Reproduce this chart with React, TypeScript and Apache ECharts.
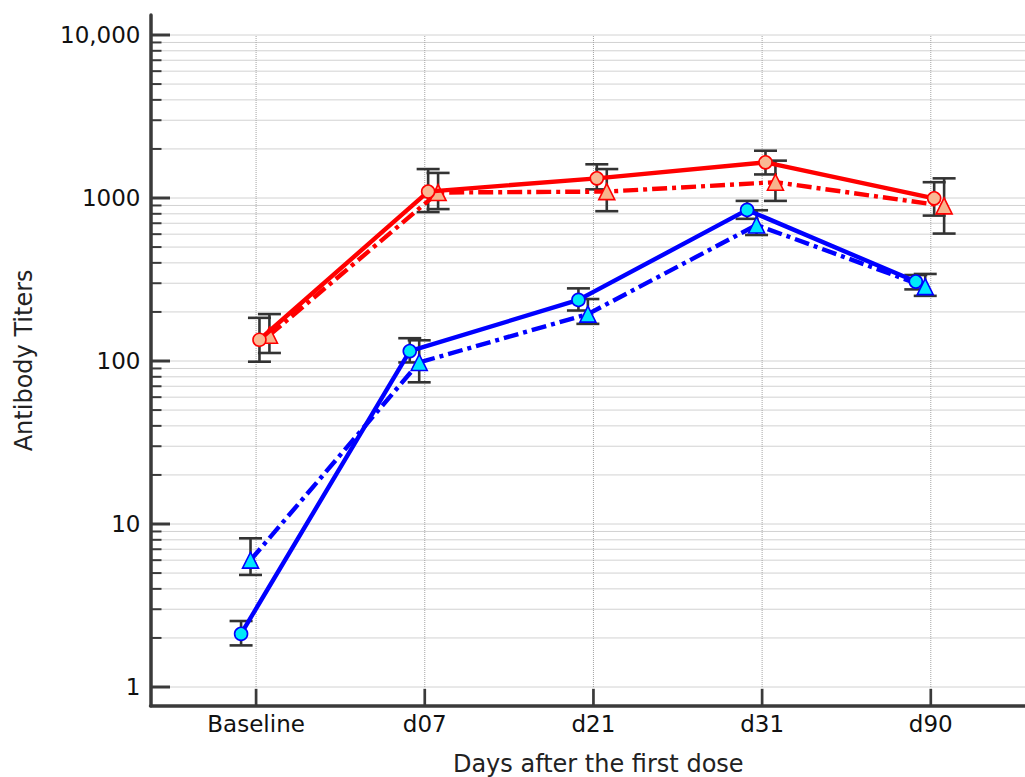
import React, { useEffect, useRef } from 'react';
import * as echarts from 'echarts';

const categories = ['Baseline', 'd07', 'd21', 'd31', 'd90'];
const yTickLabels = ['1', '10', '100', '1000', '10,000'];
const xTitle = 'Days after the first dose';
const yTitle = 'Antibody Titers';

// Red group, solid line, circles
const redCircleMean = [135, 1095, 1320, 1655, 995];
const redCircleLow = [99, 820, 1130, 1395, 780];
const redCircleHigh = [184, 1505, 1610, 1950, 1250];

// Red group, dash-dot line, triangles
const redTriMean = [144, 1080, 1095, 1250, 895];
const redTriLow = [112, 855, 830, 960, 605];
const redTriHigh = [194, 1425, 1505, 1695, 1320];

// Blue group, solid line, circles
const blueCircleMean = [2.12, 115, 237, 845, 307];
const blueCircleLow = [1.8, 98, 204, 745, 275];
const blueCircleHigh = [2.54, 138, 279, 960, 337];

// Blue group, dash-dot line, triangles
const blueTriMean = [6.0, 98, 194, 683, 286];
const blueTriLow = [4.87, 74, 169, 593, 251];
const blueTriHigh = [8.17, 134, 240, 841, 342];

// horizontal dodge (in category units) for each series
const DODGE = { blueCircle: -0.089, blueTri: -0.033, redCircle: 0.02, redTri: 0.079 };

const FONT = 'DejaVu Sans, Verdana, sans-serif';
const AXIS_COLOR = '#3a3a3a';
const GRID_COLOR = '#a4a4a4';
const L = Math.log10;

function pts(mean: number[], dodge: number) {
  return mean.map((v, i) => [i + dodge, L(v)]);
}
function errs(low: number[], high: number[], dodge: number) {
  return low.map((lo, i) => [i + dodge, L(lo), L(high[i])]);
}

export default function App() {
  const ref = useRef<HTMLDivElement>(null);
  useEffect(() => {
    if (!ref.current) return;
    const chart = echarts.init(ref.current, null, { renderer: 'svg' });

    const gridRender = (params: any, api: any) => {
      const cs = params.coordSys;
      const left = cs.x;
      const right = cs.x + cs.width;
      const bottom = cs.y + cs.height;
      const children: any[] = [];
      const ticks: any[] = [];
      for (let n = 0; n <= 4; n++) {
        for (let k = 1; k <= 9; k++) {
          const v = k * Math.pow(10, n);
          if (v > 10000) break;
          const y = api.coord([0, L(v)])[1];
          children.push({
            type: 'line',
            shape: { x1: left, y1: y, x2: right, y2: y },
            style: { stroke: GRID_COLOR, lineWidth: 1, lineDash: [1, 1] },
          });
          const major = k === 1;
          ticks.push({
            type: 'line',
            shape: { x1: left, y1: y, x2: left + (major ? 19.5 : 11), y2: y },
            style: { stroke: AXIS_COLOR, lineWidth: major ? 3 : 2 },
          });
        }
      }
      categories.forEach((_c, i) => {
        const p0 = api.coord([i, 0]);
        const p1 = api.coord([i, 4]);
        children.push({
          type: 'line',
          shape: { x1: p0[0], y1: p0[1], x2: p1[0], y2: p1[1] },
          style: { stroke: GRID_COLOR, lineWidth: 1, lineDash: [1, 1] },
        });
        ticks.push({
          type: 'line',
          shape: { x1: p0[0], y1: bottom, x2: p0[0], y2: bottom - 17 },
          style: { stroke: AXIS_COLOR, lineWidth: 2.7 },
        });
      });
      return { type: 'group', children: children.concat(ticks) };
    };

    const errRender = (_params: any, api: any) => {
      const x = api.value(0);
      const lo = api.coord([x, api.value(1)]);
      const hi = api.coord([x, api.value(2)]);
      const hw = 11.5;
      const st = { stroke: '#333333', lineWidth: 2.6 };
      return {
        type: 'group',
        children: [
          { type: 'line', shape: { x1: lo[0], y1: lo[1], x2: hi[0], y2: hi[1] }, style: st },
          { type: 'line', shape: { x1: lo[0] - hw, y1: lo[1], x2: lo[0] + hw, y2: lo[1] }, style: st },
          { type: 'line', shape: { x1: hi[0] - hw, y1: hi[1], x2: hi[0] + hw, y2: hi[1] }, style: st },
        ],
      };
    };

    const errSeries = (data: number[][], z: number) => ({
      type: 'custom',
      renderItem: errRender,
      data,
      encode: { x: 0, y: [1, 2] },
      z,
      silent: true,
    });

    const dashDot = [15, 5, 4, 5];

    const lineSeries = (
      name: string,
      data: number[][],
      color: string,
      fill: string,
      symbol: string,
      size: number,
      dashed: boolean,
      z: number
    ) => ({
      name,
      type: 'line',
      data,
      z,
      symbol,
      symbolSize: size,
      showSymbol: true,
      lineStyle: { color, width: 4.4, type: dashed ? dashDot : 'solid', cap: 'butt' },
      itemStyle: { color: fill, borderColor: color, borderWidth: 1.6 },
    });

    chart.setOption({
      animation: false,
      backgroundColor: '#ffffff',
      grid: {
        left: 150.5,
        top: 15,
        right: -21,
        bottom: 71.2,
        containLabel: false,
        outerBoundsMode: 'none',
      },
      xAxis: {
        type: 'value',
        min: -0.626,
        max: 4.683,
        name: xTitle,
        nameLocation: 'middle',
        nameGap: 46,
        nameTextStyle: { fontFamily: FONT, fontSize: 24, color: '#222' },
        axisLine: { show: true, onZero: false, lineStyle: { color: AXIS_COLOR, width: 3.5 } },
        axisTick: { show: false },
        splitLine: { show: false },
        axisLabel: {
          customValues: [0, 1, 2, 3, 4],
          formatter: (v: number) => (Number.isInteger(v) ? categories[v] ?? '' : ''),
          fontFamily: FONT,
          fontSize: 23,
          color: '#111',
          margin: 7,
        },
      },
      yAxis: {
        type: 'value',
        min: -0.1153,
        max: 4.1227,
        name: yTitle,
        nameLocation: 'middle',
        nameGap: 115,
        nameTextStyle: { fontFamily: FONT, fontSize: 24, color: '#222' },
        axisLine: { show: true, onZero: false, lineStyle: { color: AXIS_COLOR, width: 3.5 } },
        axisTick: { show: false },
        splitLine: { show: false },
        axisLabel: {
          customValues: [0, 1, 2, 3, 4],
          formatter: (v: number) => (Number.isInteger(v) ? yTickLabels[v] ?? '' : ''),
          fontFamily: FONT,
          fontSize: 23,
          color: '#111',
          margin: 10,
        },
      },
      series: [
        {
          type: 'custom',
          renderItem: gridRender,
          data: [[0, 0]],
          encode: { x: 0, y: 1 },
          z: 0,
          silent: true,
        },
        errSeries(errs(blueCircleLow, blueCircleHigh, DODGE.blueCircle), 1),
        errSeries(errs(blueTriLow, blueTriHigh, DODGE.blueTri), 1),
        errSeries(errs(redCircleLow, redCircleHigh, DODGE.redCircle), 1),
        errSeries(errs(redTriLow, redTriHigh, DODGE.redTri), 1),
        lineSeries('Blue dash', pts(blueTriMean, DODGE.blueTri), '#0000ff', '#00e6ff', 'triangle', 16, true, 2),
        lineSeries('Blue solid', pts(blueCircleMean, DODGE.blueCircle), '#0000ff', '#00e8f8', 'circle', 13, false, 3),
        lineSeries('Red dash', pts(redTriMean, DODGE.redTri), '#ff0000', '#f8b48c', 'triangle', 16, true, 4),
        lineSeries('Red solid', pts(redCircleMean, DODGE.redCircle), '#ff0000', '#f9b994', 'circle', 13, false, 5),
      ],
    });
    return () => chart.dispose();
  }, []);

  return (
    <div
      ref={ref}
      style={{ position: 'absolute', left: 0, top: 0, width: 1025, height: 777, background: '#fff' }}
    />
  );
}
